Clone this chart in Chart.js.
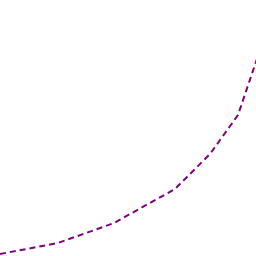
<!DOCTYPE html>
<html>
<head>
<meta charset="utf-8">
<script src="https://cdn.jsdelivr.net/npm/chart.js@4/dist/chart.umd.min.js"></script>
<style>
  html, body { margin: 0; padding: 0; background: #fff; }
  #wrap { width: 256px; height: 256px; }
</style>
</head>
<body>
<div id="wrap"><canvas id="chart"></canvas></div>
<script>
  // values
  let xValues = [0, 58, 114, 175, 210, 238, 258];
  let yValues = [2, 13, 33, 67, 102, 141, 200];

  let points = xValues.map(function (x, i) {
      return { x: x, y: yValues[i] };
  });

  new Chart(document.getElementById('chart'), {
      type: 'line',
      data: {
          datasets: [{
              data: points,
              borderColor: '#800080',
              borderWidth: 2,
              borderDash: [6, 4],
              pointRadius: 0,
              fill: false,
              tension: 0
          }]
      },
      options: {
          responsive: true,
          maintainAspectRatio: false,
          animation: false,
          layout: { padding: 0 },
          plugins: { legend: { display: false }, tooltip: { enabled: false } },
          scales: {
              x: { type: 'linear', min: 0, max: 256, display: false },
              y: { min: 0, max: 256, display: false }
          }
      }
  });
</script>
</body>
</html>
